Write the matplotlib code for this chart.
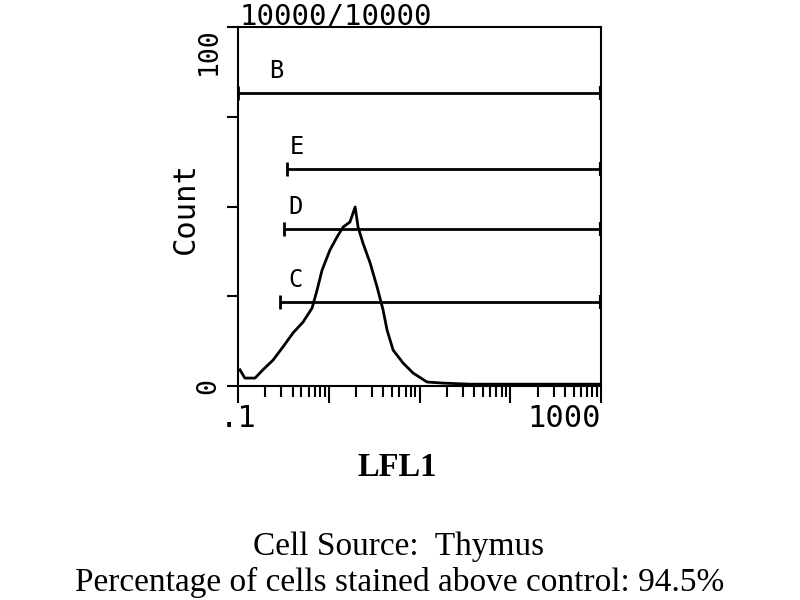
import matplotlib
matplotlib.use("Agg")
import matplotlib.pyplot as plt
from matplotlib.ticker import LogLocator, NullFormatter

# histogram trace (LFL1 intensity, count)
lfl1 = [0.105, 0.119, 0.154, 0.188, 0.243, 0.313, 0.404, 0.520, 0.654, 0.742,
        0.843, 1.03, 1.23, 1.44, 1.71, 1.95, 2.10, 2.38, 2.85, 3.40,
        3.96, 4.38, 5.11, 6.58, 8.48, 12.1, 18.2, 36.0, 128.0, 977.0]
count = [4.5, 2.2, 2.2, 4.5, 7.2, 10.9, 14.8, 17.8, 21.7, 26.7,
         32.3, 37.9, 41.5, 44.3, 45.7, 49.9, 44.3, 39.8, 34.3, 27.6,
         21.2, 15.6, 10.0, 6.4, 3.6, 1.1, 0.8, 0.5, 0.5, 0.5]

# gates: name, start, end, level, label x
gate_names = ["B", "E", "D", "C"]
gate_start = [0.1, 0.35, 0.32, 0.29]
gate_end = [1000, 1000, 1000, 1000]
gate_level = [81.6, 60.4, 43.7, 23.4]
gate_label_x = [0.22, 0.37, 0.36, 0.355]

mono = "DejaVu Sans Mono"

fig = plt.figure(figsize=(8, 6), dpi=100)
ax = fig.add_axes([0.2975, 0.3567, 0.454, 0.598])

ax.plot(lfl1, count, color="black", lw=2)

for name, x0, x1, lev, lx in zip(gate_names, gate_start, gate_end, gate_level, gate_label_x):
    ax.plot([x0, x1], [lev, lev], color="black", lw=2, solid_capstyle="butt")
    ax.plot([x0], [lev], marker="|", ms=10, mew=2, color="black")
    ax.plot([x1], [lev], marker="|", ms=10, mew=3, color="black")
    ax.text(lx, lev + 2.8, name, fontsize=17, family=mono,
            ha="left", va="bottom")

ax.set_xscale("log")
ax.set_xlim(0.1, 1000)
ax.set_ylim(0, 100)

# x ticks
ax.set_xticks([0.1, 1, 10, 100, 1000])
ax.set_xticklabels([".1", "", "", "", "1000"], family=mono, fontsize=22)
ax.get_xticklabels()[-1].set_ha("right")
ax.xaxis.set_minor_locator(LogLocator(base=10, subs=range(2, 10)))
ax.xaxis.set_minor_formatter(NullFormatter())
ax.tick_params(axis="x", which="major", direction="out", length=12, width=1.5, pad=1)
ax.tick_params(axis="x", which="minor", direction="out", length=8, width=1.5)

# y ticks
ax.set_yticks([0, 25, 50, 75, 100])
ax.set_yticklabels(["0", "", "", "", "100"], family=mono, fontsize=19, rotation=90)
ax.get_yticklabels()[-1].set_va("top")
ax.get_yticklabels()[0].set_va("center")
ax.tick_params(axis="y", direction="out", length=8, width=1.5, pad=4)

for s in ax.spines.values():
    s.set_linewidth(1.5)

ax.set_ylabel("Count", family=mono, fontsize=22)
ax.yaxis.set_label_coords(-0.105, 0.496)

fig.text(0.30, 0.9955, "10000/10000", family=mono, fontsize=21,
         ha="left", va="top")

fig.text(0.496, 0.22, "LFL1", family="Liberation Serif", fontweight="bold",
         fontsize=23.5, ha="center", va="center")
fig.text(0.498, 0.088, "Cell Source:  Thymus", family="Liberation Serif",
         fontsize=24, ha="center", va="center")
fig.text(0.499, 0.03, "Percentage of cells stained above control: 94.5%",
         family="Liberation Serif", fontsize=24, ha="center", va="center")

fig.savefig("out.png", dpi=100)
